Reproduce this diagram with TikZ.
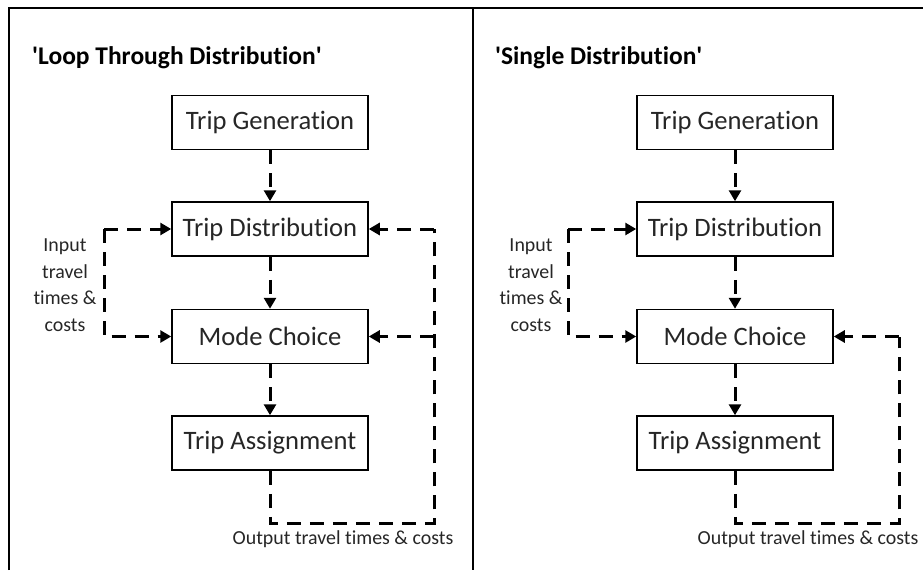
\documentclass[tikz,border=0pt]{standalone}
\usepackage{fontspec}
\setmainfont{Carlito}[Ligatures={TeX,NoCommon}]
\usetikzlibrary{arrows.meta}
\definecolor{textgray}{HTML}{262626}
\begin{document}
\begin{tikzpicture}[x=1pt,y=-1pt,
 box/.style={draw=black, line width=1.5pt, minimum width=196pt, minimum height=54pt, inner sep=0pt, font=\fontsize{26.6}{30}\selectfont, text=textgray},
 flow/.style={draw=black, line width=3pt, dash pattern=on 14pt off 9pt, -{Triangle[length=11pt,width=12pt]}},
 loopline/.style={draw=black, line width=3pt, dash pattern=on 14pt off 9pt},
 lab/.style={font=\fontsize{19.9}{26.5}\selectfont, text=textgray, align=center, inner sep=0pt},
 ttl/.style={font=\bfseries\fontsize{25.5}{28}\selectfont, text=black, anchor=west, inner sep=0pt}]
\useasboundingbox (0,0) rectangle (923,570);
% frame
\coordinate (fbl) at (9,570);
\coordinate (ftl) at (9,8);
\coordinate (ftr) at (923,8);
\coordinate (fmt) at (473,8);
\coordinate (fmb) at (473,570);
\draw[line width=2pt] (fbl) -- (ftl) -- (ftr);
\draw[line width=2pt] (fmt) -- (fmb);

% ---------- left panel ----------
\node[ttl] (t1) at (32,58) {\textquotesingle Loop Through Distribution\textquotesingle};
\node[box] (g1) at (270,122.5) {Trip Generation};
\node[box] (d1) at (270,229) {Trip Distribution};
\node[box] (m1) at (270,336.5) {Mode Choice};
\node[box] (a1) at (270,443) {Trip Assignment};
\draw[flow] (g1) -- (d1);
\draw[flow] (d1) -- (m1);
\draw[flow] (m1) -- (a1);
\coordinate (il1) at (104,229);
\coordinate (il2) at (104,336.5);
\draw[flow] (il1) -- (d1.west);
\draw[flow] (il1) -- (il2) -- (m1.west);
\node[lab] (in1) at (65,285) {Input\\travel\\times \&\\costs};
\coordinate (ob1) at (270,523);
\coordinate (ob2) at (434,523);
\coordinate (ot1) at (434,229);
\coordinate (om1) at (434,336.5);
\draw[loopline] (a1.south) -- (ob1) -- (ob2) -- (ot1);
\draw[flow] (ot1) -- (d1.east);
\draw[flow] (om1) -- (m1.east);
\node[lab] (out1) at (343,539) {Output travel times \& costs};

% ---------- right panel ----------
\node[ttl] (t2) at (495,58) {\textquotesingle Single Distribution\textquotesingle};
\node[box] (g2) at (735,122.5) {Trip Generation};
\node[box] (d2) at (735,229) {Trip Distribution};
\node[box] (m2) at (735,336.5) {Mode Choice};
\node[box] (a2) at (735,443) {Trip Assignment};
\draw[flow] (g2) -- (d2);
\draw[flow] (d2) -- (m2);
\draw[flow] (m2) -- (a2);
\coordinate (jl1) at (568,229);
\coordinate (jl2) at (568,336.5);
\draw[flow] (jl1) -- (d2.west);
\draw[flow] (jl1) -- (jl2) -- (m2.west);
\node[lab] (in2) at (531,285) {Input\\travel\\times \&\\costs};
\coordinate (pb1) at (735,523);
\coordinate (pb2) at (899,523);
\coordinate (pm1) at (899,336.5);
\draw[loopline] (a2.south) -- (pb1) -- (pb2) -- (pm1);
\draw[flow] (pm1) -- (m2.east);
\node[lab] (out2) at (808,539) {Output travel times \& costs};
\end{tikzpicture}
\end{document}
